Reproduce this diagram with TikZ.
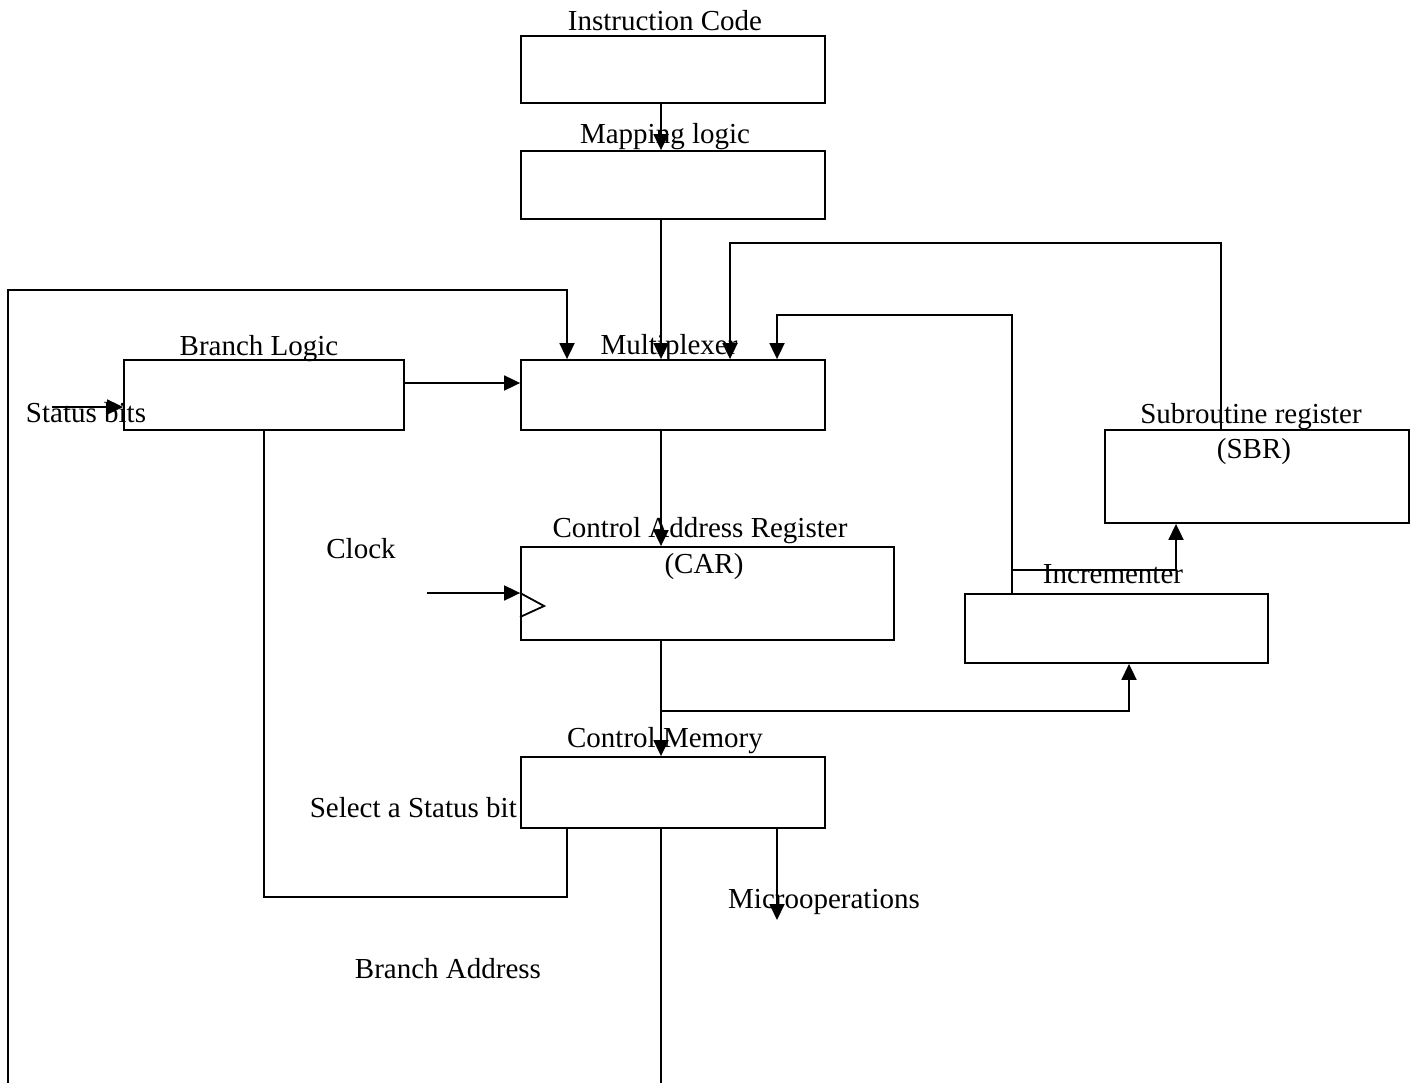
\documentclass[tikz,border=0pt]{standalone}
\usepackage{fontspec}
\setmainfont{Liberation Serif}
\usetikzlibrary{arrows.meta}
\tikzset{
  box/.style={draw, line width=1.8pt, rectangle, inner sep=0pt},
  conn/.style={line width=1.8pt},
  arr/.style={conn, -{Triangle[length=16pt,width=15pt]}},
  lbl/.style={inner sep=0pt, font=\fontsize{29}{34}\selectfont}
}
\begin{document}
\begin{tikzpicture}[x=1pt,y=-1pt]
\useasboundingbox (0,0) rectangle (1415,1083);
% boxes
\node[box, minimum width=304pt, minimum height=67pt] (ic)  at (673,69.5) {};
\node[box, minimum width=304pt, minimum height=68pt] (ml)  at (673,185) {};
\node[box, minimum width=304pt, minimum height=70pt] (mux) at (673,395) {};
\node[box, minimum width=280pt, minimum height=70pt] (bl)  at (264,395) {};
\node[box, minimum width=373pt, minimum height=93pt] (car) at (707.5,593.5) {};
\node[box, minimum width=304pt, minimum height=71pt] (cm)  at (673,792.5) {};
\node[box, minimum width=303pt, minimum height=69pt] (inc) at (1116.5,628.5) {};
\node[box, minimum width=304pt, minimum height=93pt] (sbr) at (1257,476.5) {};
% labels
\node[lbl, anchor=base] (tic)  at (665,31) {Instruction Code};
\node[lbl, anchor=base] (tml)  at (665,144) {Mapping logic};
\node[lbl, anchor=base] (tmux) at (669,354) {Multiplexer};
\node[lbl, anchor=base] (tbl)  at (259,355) {Branch Logic};
\node[lbl, anchor=base] (tsb)  at (86,422) {Status bits};
\node[lbl, anchor=base] (tcar) at (700,537) {Control Address Register};
\node[lbl, anchor=base] (tcar2) at (704,573) {(CAR)};
\node[lbl, anchor=base] (tclk) at (361,558) {Clock};
\node[lbl, anchor=base] (tsbr) at (1251,423) {Subroutine register};
\node[lbl, anchor=base] (tsbr2) at (1254,458) {(SBR)};
\node[lbl, anchor=base] (tinc) at (1113,583) {Incrementer};
\node[lbl, anchor=base] (tcm)  at (665,747) {Control Memory};
\node[lbl, anchor=base east] (tsel) at (517,817) {Select a Status bit};
\node[lbl, anchor=base] (tmo)  at (824,908) {Microoperations};
\node[lbl, anchor=base] (tba)  at (448,978) {Branch Address};
% helper coordinates
\coordinate (xa) at (661,0);
\coordinate (xb) at (567,0);
\coordinate (xc) at (730,0);
\coordinate (xd) at (777,0);
\coordinate (xe) at (1012,0);
\coordinate (xf) at (1129,0);
\coordinate (xg) at (1176,0);
\coordinate (xh) at (1221,0);
\coordinate (xm) at (264,0);
\coordinate (sb) at (52,407);
\coordinate (bot1) at (661,1083);
\coordinate (bot2) at (8,1083);
\coordinate (topl) at (8,290);
\coordinate (sel) at (567,897);
\coordinate (j1) at (661,711);
\coordinate (j2) at (1012,570);
\coordinate (t1) at (730,243);
\coordinate (t2) at (777,315);
\coordinate (clk) at (427,593);
\coordinate (mo) at (777,920);
% connectors
\draw[arr] (ic.south -| xa) -- (ml.north -| xa);
\draw[arr] (ml.south -| xa) -- (mux.north -| xa);
\draw[arr] ([yshift=12pt]bl.east) -- ([yshift=12pt]mux.west);
\draw[arr] (sb) -- (sb -| bl.west);
\draw[conn] (cm.south -| xa) -- (bot1);
\draw[arr] (bot2) -- (topl) -| (mux.north -| xb);
\draw[conn] (bl.south -| xm) |- (sel) -- (cm.south -| sel);
\draw[arr] (mux.south -| xa) -- (car.north -| xa);
\draw[arr] (car.south -| xa) -- (cm.north -| xa);
\draw[arr] (j1) -| (inc.south -| xf);
\draw[arr] (inc.north -| xe) |- (t2) -- (mux.north -| xd);
\draw[arr] (j2) -| (sbr.south -| xg);
\draw[arr] (sbr.north -| xh) |- (t1) -- (mux.north -| xc);
\draw[arr] (clk) -- (clk -| car.west);
\draw[conn] ([yshift=0.5pt]car.west) -- ([xshift=24pt,yshift=-12.5pt]car.west) -- ([yshift=-23.5pt]car.west);
\draw[arr] (cm.south -| mo) -- (mo);
\end{tikzpicture}
\end{document}
